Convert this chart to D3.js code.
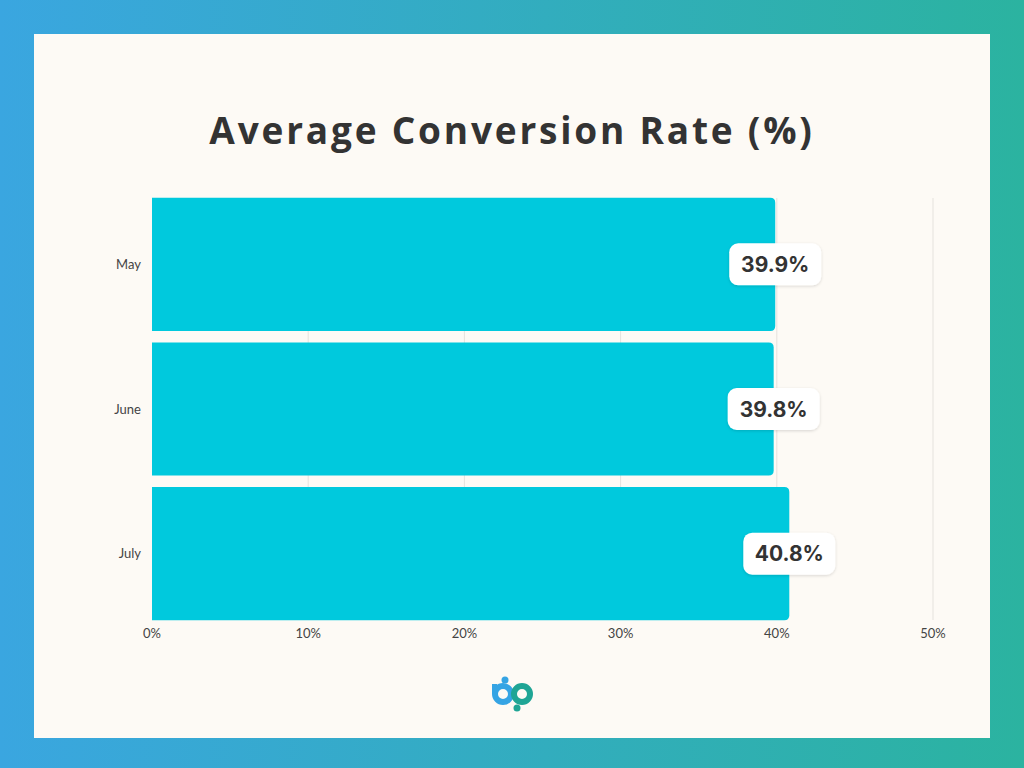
<!DOCTYPE html>
<html><head><meta charset="utf-8">
<script src="https://cdn.jsdelivr.net/npm/d3@7"></script>
<style>body{margin:0}svg{display:block}</style>
</head><body><svg id="c" width="1024" height="768"></svg>
<script>
const categories = ['May', 'June', 'July'];
const values = [39.9, 39.8, 40.8];
const ticks = [0, 10, 20, 30, 40, 50];

const svg = d3.select('#c');
const defs = svg.append('defs');
const g = defs.append('linearGradient').attr('id', 'bg');
g.append('stop').attr('offset', '0%').attr('stop-color', '#3aa6e0');
g.append('stop').attr('offset', '100%').attr('stop-color', '#2bb3a0');
const sh = defs.append('filter').attr('id', 'sh').attr('x', '-20%').attr('y', '-30%').attr('width', '140%').attr('height', '160%');
sh.append('feDropShadow').attr('dx', 0).attr('dy', 1).attr('stdDeviation', 1.5).attr('flood-opacity', 0.15);

svg.append('rect').attr('width', 1024).attr('height', 768).attr('fill', 'url(#bg)');
svg.append('rect').attr('x', 34).attr('y', 34).attr('width', 956).attr('height', 704).attr('fill', '#fdfaf5');

svg.append('text').attr('x', 512).attr('y', 144).attr('text-anchor', 'middle')
  .attr('font-family', 'Open Sans').attr('font-weight', 700).attr('font-size', 37)
  .attr('letter-spacing', 2.8).attr('fill', '#333').text('Average Conversion Rate (%)');

const x = d3.scaleLinear().domain([0, 50]).range([152, 933]);
const y = d3.scaleBand().domain(categories).range([192, 626]).paddingInner(0.08).paddingOuter(0.04);

svg.append('g').selectAll('line').data(ticks.slice(1)).join('line')
  .attr('x1', d => x(d)).attr('x2', d => x(d)).attr('y1', 198).attr('y2', 620)
  .attr('stroke', '#e5e2dd').attr('stroke-width', 1);

svg.append('g').selectAll('path').data(values).join('path')
  .attr('fill', '#00c9dd')
  .attr('d', (d, i) => {
    const x0 = x(0), x1 = x(d), y0 = y(categories[i]), h = y.bandwidth(), r = 5;
    return `M${x0},${y0}H${x1 - r}Q${x1},${y0} ${x1},${y0 + r}V${y0 + h - r}Q${x1},${y0 + h} ${x1 - r},${y0 + h}H${x0}Z`;
  });

const lab = svg.append('g').selectAll('g').data(values).join('g')
  .attr('transform', (d, i) => `translate(${x(d)},${y(categories[i]) + y.bandwidth() / 2})`);
lab.append('rect').attr('x', -46).attr('y', -21).attr('width', 92).attr('height', 42).attr('rx', 9)
  .attr('fill', '#fff').attr('filter', 'url(#sh)');
lab.append('text').attr('text-anchor', 'middle').attr('dy', '0.36em')
  .attr('font-family', 'Inter').attr('font-weight', 700).attr('font-size', 21).attr('fill', '#333')
  .text(d => d.toFixed(1) + '%');

svg.append('g').selectAll('text').data(categories).join('text')
  .attr('x', 141).attr('y', d => y(d) + y.bandwidth() / 2).attr('dy', '0.35em').attr('text-anchor', 'end')
  .attr('font-family', 'Lato').attr('font-size', 13).attr('fill', '#444').text(d => d);

svg.append('g').selectAll('text').data(ticks).join('text')
  .attr('x', d => x(d)).attr('y', 638).attr('text-anchor', 'middle')
  .attr('font-family', 'Lato').attr('font-size', 13).attr('fill', '#444').text(d => d + '%');

// logo
const logo = svg.append('g').attr('transform', 'translate(512,694)');
logo.append('circle').attr('cx', -7).attr('cy', -14).attr('r', 3.5).attr('fill', '#35a4e4');
logo.append('circle').attr('cx', -9).attr('cy', 0).attr('r', 8).attr('fill', 'none').attr('stroke', '#35a4e4').attr('stroke-width', 6);
logo.append('rect').attr('x', -20).attr('y', -10).attr('width', 5).attr('height', 10).attr('fill', '#35a4e4');
logo.append('circle').attr('cx', 10).attr('cy', 0).attr('r', 8).attr('fill', 'none').attr('stroke', '#1fa595').attr('stroke-width', 6);
logo.append('circle').attr('cx', 5).attr('cy', 14).attr('r', 3.5).attr('fill', '#1fa595');
</script></body></html>
